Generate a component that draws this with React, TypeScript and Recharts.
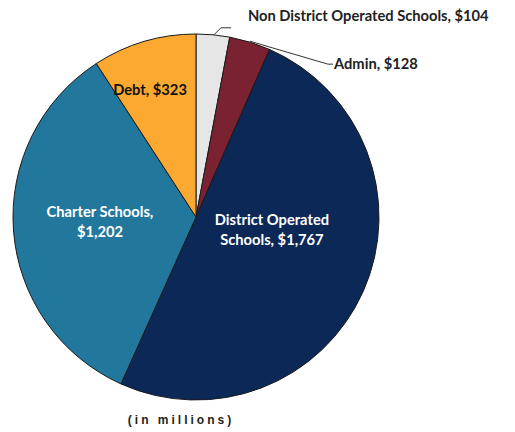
import React from "react";
import { PieChart, Pie, Cell } from "recharts";

const categories = [
  "Non District Operated Schools",
  "Admin",
  "District Operated Schools",
  "Charter Schools",
  "Debt",
];
const values = [104, 128, 1767, 1202, 323];
const valueLabels = ["$104", "$128", "$1,767", "$1,202", "$323"];
const colors = ["#E6E6E6", "#7A2232", "#0C2857", "#22789C", "#FBA930"];

const data = categories.map((name, i) => ({ name, value: values[i] }));

const FONT = "Lato, 'Open Sans', sans-serif";
const FS = 14.7;
const RAD = Math.PI / 180;

const renderLabel = (props: any) => {
  const { cx, cy, midAngle, outerRadius, index } = props;
  const name = categories[index];
  const val = valueLabels[index];
  const ex = cx + outerRadius * Math.cos(-midAngle * RAD);
  const ey = cy + outerRadius * Math.sin(-midAngle * RAD);
  if (index === 0) {
    return (
      <g key="l0">
        <polyline
          points={`${ex + 1},${ey} ${ex + 8},${ey - 7} ${ex + 18},${ey - 7}`}
          fill="none"
          stroke="#333"
          strokeWidth={1}
        />
        <text x={ex + 35} y={ey - 20} fontFamily={FONT} fontWeight={700} fontSize={FS} fill="#222" dominantBaseline="central">
          {`${name}, ${val}`}
        </text>
      </g>
    );
  }
  if (index === 1) {
    return (
      <g key="l1">
        <polyline
          points={`${ex},${ey - 1} ${ex + 20},${ey + 5} ${ex + 78},${ey + 22} ${ex + 83},${ey + 22}`}
          fill="none"
          stroke="#333"
          strokeWidth={1}
        />
        <text x={ex + 84} y={ey + 21} fontFamily={FONT} fontWeight={700} fontSize={FS} fill="#222" dominantBaseline="central">
          {`${name}, ${val}`}
        </text>
      </g>
    );
  }
  if (index === 2) {
    const x = cx + outerRadius * 0.415;
    const y = cy + outerRadius * 0.065;
    return (
      <text key="l2" x={x} textAnchor="middle" fontFamily={FONT} fontWeight={700} fontSize={FS} fill="#fff">
        <tspan x={x} y={y - 4}>District Operated</tspan>
        <tspan x={x} y={y + 16}>Schools, {val}</tspan>
      </text>
    );
  }
  if (index === 3) {
    const x = cx - outerRadius * 0.525;
    const y = cy;
    return (
      <text key="l3" x={x} textAnchor="middle" fontFamily={FONT} fontWeight={700} fontSize={FS} fill="#fff">
        <tspan x={x} y={y}>Charter Schools,</tspan>
        <tspan x={x} y={y + 20}>{val}</tspan>
      </text>
    );
  }
  const x = cx - outerRadius * 0.251;
  const y = cy - outerRadius * 0.7;
  return (
    <text key="l4" x={x} y={y} textAnchor="middle" fontFamily={FONT} fontWeight={700} fontSize={FS} fill="#111" dominantBaseline="central">
      {`${name}, ${val}`}
    </text>
  );
};

export default function App() {
  return (
    <div style={{ position: "absolute", left: 0, top: 0, width: 515, height: 432, background: "#fff" }}>
      <PieChart width={515} height={432} margin={{ top: 0, right: 0, bottom: 0, left: 0 }}>
        <Pie
          data={data}
          dataKey="value"
          nameKey="name"
          cx={196}
          cy={217}
          outerRadius={183}
          startAngle={90}
          endAngle={-270}
          stroke="#1a1a1a"
          strokeWidth={1}
          labelLine={false}
          label={renderLabel}
          isAnimationActive={false}
        >
          {data.map((d, i) => (
            <Cell key={d.name} fill={colors[i]} />
          ))}
        </Pie>
        <text
          x={181}
          y={420}
          textAnchor="middle"
          fontFamily="'Liberation Sans', Arial, sans-serif"
          fontWeight={700}
          fontSize={12}
          letterSpacing={3}
          fill="#222"
          dominantBaseline="central"
        >
          (in millions)
        </text>
      </PieChart>
    </div>
  );
}
